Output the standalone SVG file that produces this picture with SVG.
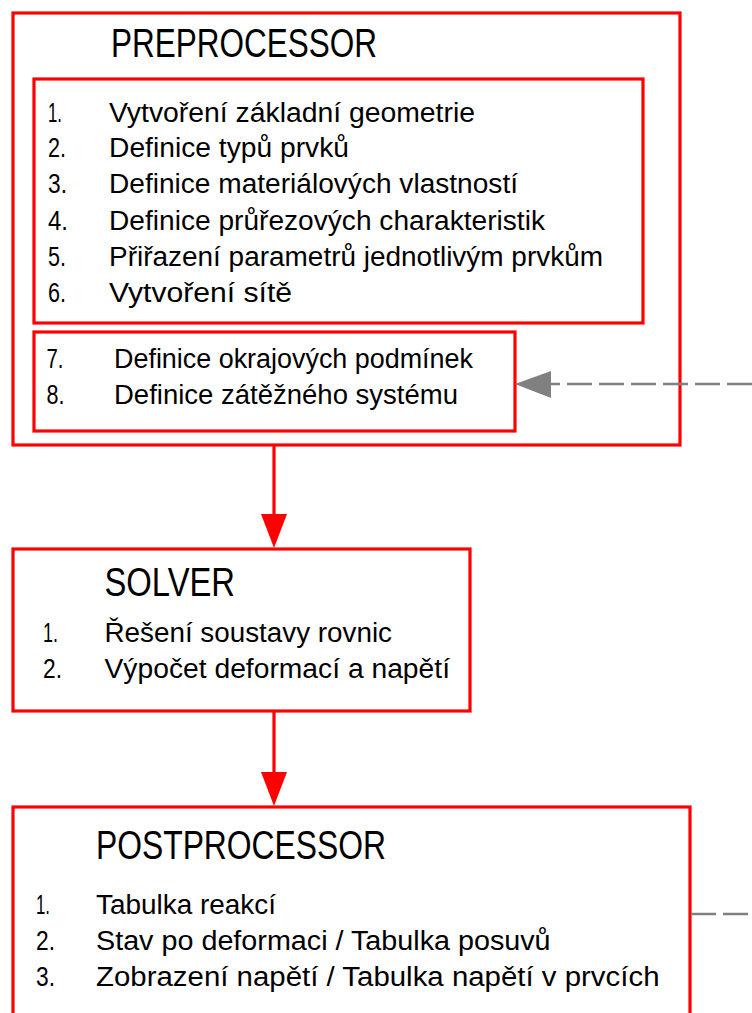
<svg xmlns="http://www.w3.org/2000/svg" width="752" height="1013" viewBox="0 0 752 1013">
<style>
.box{fill:none;stroke:#ff0000;stroke-width:3.2}
.t{font-family:"Liberation Sans",Arial,sans-serif;fill:#000}
.h{font-size:40px}
.i{font-size:27px}
.red{stroke:#ff0000;stroke-width:3.2;fill:none}
.redhead{fill:#ff0000}
.dash{stroke:#808080;stroke-width:2.6;stroke-dasharray:25 7;fill:none}
</style>
<rect width="752" height="1013" fill="#ffffff"/>
<g id="preprocessor">
<rect class="box" x="13" y="13" width="667" height="432"/>
<text class="t h" x="111" y="57" textLength="266" lengthAdjust="spacingAndGlyphs">PREPROCESSOR</text>
</g>
<g id="preprocessor-steps-1-6">
<rect class="box" x="34" y="79" width="609" height="244"/>
<text class="t i" x="48" y="122" textLength="14" lengthAdjust="spacingAndGlyphs">1.</text>
<text class="t i" x="109" y="122" textLength="366" lengthAdjust="spacingAndGlyphs">Vytvoření základní geometrie</text>
<text class="t i" x="48" y="157" textLength="18" lengthAdjust="spacingAndGlyphs">2.</text>
<text class="t i" x="109" y="157" textLength="240" lengthAdjust="spacingAndGlyphs">Definice typů prvků</text>
<text class="t i" x="48" y="193" textLength="19" lengthAdjust="spacingAndGlyphs">3.</text>
<text class="t i" x="109" y="193" textLength="409" lengthAdjust="spacingAndGlyphs">Definice materiálových vlastností</text>
<text class="t i" x="48" y="230" textLength="20" lengthAdjust="spacingAndGlyphs">4.</text>
<text class="t i" x="109" y="230" textLength="436" lengthAdjust="spacingAndGlyphs">Definice průřezových charakteristik</text>
<text class="t i" x="48" y="266" textLength="18" lengthAdjust="spacingAndGlyphs">5.</text>
<text class="t i" x="109" y="266" textLength="494" lengthAdjust="spacingAndGlyphs">Přiřazení parametrů jednotlivým prvkům</text>
<text class="t i" x="48" y="302" textLength="18" lengthAdjust="spacingAndGlyphs">6.</text>
<text class="t i" x="109" y="302" textLength="183" lengthAdjust="spacingAndGlyphs">Vytvoření sítě</text>
</g>
<g id="preprocessor-steps-7-8">
<rect class="box" x="34" y="332" width="481" height="99"/>
<text class="t i" x="46.5" y="368" textLength="17" lengthAdjust="spacingAndGlyphs">7.</text>
<text class="t i" x="114" y="368" textLength="359" lengthAdjust="spacingAndGlyphs">Definice okrajových podmínek</text>
<text class="t i" x="46.5" y="404" textLength="18" lengthAdjust="spacingAndGlyphs">8.</text>
<text class="t i" x="114" y="404" textLength="344" lengthAdjust="spacingAndGlyphs">Definice zátěžného systému</text>
</g>
<g id="solver">
<rect class="box" x="13" y="549" width="457" height="162"/>
<text class="t h" x="104.5" y="596" textLength="130.5" lengthAdjust="spacingAndGlyphs">SOLVER</text>
<text class="t i" x="43" y="642" textLength="15" lengthAdjust="spacingAndGlyphs">1.</text>
<text class="t i" x="104.5" y="642" textLength="287.5" lengthAdjust="spacingAndGlyphs">Řešení soustavy rovnic</text>
<text class="t i" x="43" y="678" textLength="19" lengthAdjust="spacingAndGlyphs">2.</text>
<text class="t i" x="104.5" y="678" textLength="345.5" lengthAdjust="spacingAndGlyphs">Výpočet deformací a napětí</text>
</g>
<g id="postprocessor">
<rect class="box" x="13" y="807" width="677" height="230"/>
<text class="t h" x="96" y="859" textLength="290" lengthAdjust="spacingAndGlyphs">POSTPROCESSOR</text>
<text class="t i" x="36" y="914" textLength="14" lengthAdjust="spacingAndGlyphs">1.</text>
<text class="t i" x="96" y="914" textLength="180" lengthAdjust="spacingAndGlyphs">Tabulka reakcí</text>
<text class="t i" x="36" y="950" textLength="19" lengthAdjust="spacingAndGlyphs">2.</text>
<text class="t i" x="96" y="950" textLength="454.6" lengthAdjust="spacingAndGlyphs">Stav po deformaci / Tabulka posuvů</text>
<text class="t i" x="36" y="986" textLength="19" lengthAdjust="spacingAndGlyphs">3.</text>
<text class="t i" x="96" y="986" textLength="563.5" lengthAdjust="spacingAndGlyphs">Zobrazení napětí / Tabulka napětí v prvcích</text>
</g>
<g id="connectors">
<line class="red" x1="274" y1="446" x2="274" y2="515"/>
<polygon class="redhead" points="261,514 287,514 274,548"/>
<line class="red" x1="274" y1="712" x2="274" y2="773"/>
<polygon class="redhead" points="261,772 287,772 274,806"/>
<line class="dash" x1="752" y1="384" x2="550" y2="384"/>
<polygon points="515,384 551,371 551,398" fill="#808080"/>
<line class="dash" x1="691" y1="914" x2="752" y2="914"/>
</g>
</svg>
